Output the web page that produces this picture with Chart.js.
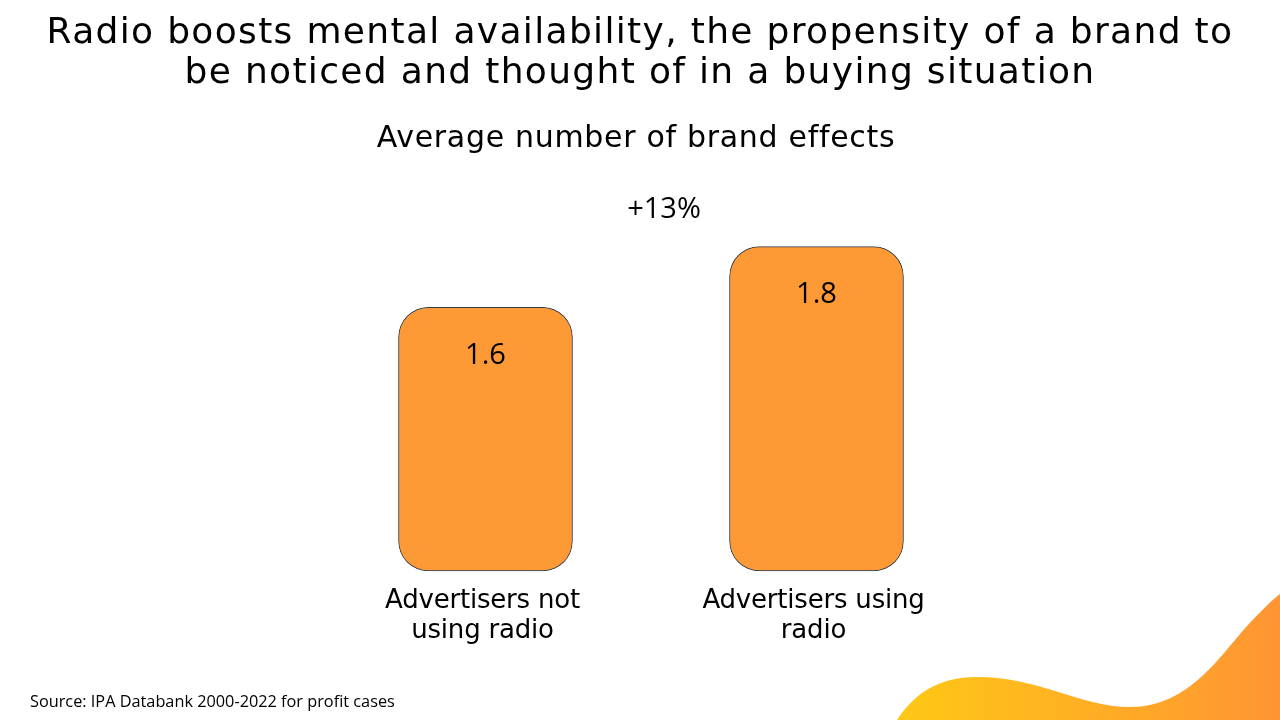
<!DOCTYPE html>
<html>
<head>
<meta charset="utf-8">
<script src="https://cdn.jsdelivr.net/npm/chart.js@4"></script>
<style>
  html, body { margin: 0; padding: 0; background: #fff; }
  #wrap { width: 1280px; height: 720px; position: relative; }
</style>
</head>
<body>
<div id="wrap"><canvas id="myChart"></canvas></div>
<script>
// datos del grafico
const categorias = [['Advertisers not', 'using radio'], ['Advertisers using', 'radio']]
const valores = [1.6, 1.8]
const titulo = ['Radio boosts mental availability, the propensity of a brand to', 'be noticed and thought of in a buying situation']
const subtitulo = 'Average number of brand effects'
const diferencia = '+13%'
const fuente = 'Source: IPA Databank 2000-2022 for profit cases'

const fuenteTexto = '"DejaVu Sans", "Open Sans", sans-serif'
const fuenteNumeros = '"Open Sans", "Noto Sans", sans-serif'

// espaciado para que el texto tenga el ancho del original
function ajustar(ctx, texto, ancho) {
  ctx.letterSpacing = '0px'
  const w = ctx.measureText(texto).width
  ctx.letterSpacing = ((ancho - w) / texto.length).toFixed(2) + 'px'
}

// fondo con la onda naranja
const ondaPlugin = {
  id: 'onda',
  beforeDraw(chart) {
    const ctx = chart.ctx
    ctx.save()
    const grad = ctx.createLinearGradient(897, 0, 1280, 0)
    grad.addColorStop(0, '#FFC815')
    grad.addColorStop(1, '#FF9533')
    ctx.fillStyle = grad
    ctx.beginPath()
    ctx.moveTo(897, 720)
    ctx.bezierCurveTo(918, 688, 945, 677, 977, 677)
    ctx.bezierCurveTo(1040, 677, 1080, 707, 1130, 707)
    ctx.bezierCurveTo(1190, 707, 1220, 655, 1248, 625)
    ctx.bezierCurveTo(1262, 610, 1272, 600, 1280, 594)
    ctx.lineTo(1280, 720)
    ctx.closePath()
    ctx.fill()
    ctx.restore()
  }
}

// textos: titulo, etiquetas, fuente
const textosPlugin = {
  id: 'textos',
  afterDatasetsDraw(chart) {
    const ctx = chart.ctx
    const x = chart.scales.x
    const meta = chart.getDatasetMeta(0)
    ctx.save()
    ctx.fillStyle = '#000'
    ctx.textAlign = 'center'
    ctx.textBaseline = 'middle'

    ctx.font = '36px ' + fuenteTexto
    ajustar(ctx, titulo[0], 1187)
    ctx.fillText(titulo[0], 640, 34)
    ctx.fillText(titulo[1], 640, 74)

    ctx.font = '30px ' + fuenteTexto
    ajustar(ctx, subtitulo, 518)
    ctx.fillText(subtitulo, 636, 139)

    ctx.letterSpacing = '0px'
    ctx.font = '29px ' + fuenteNumeros
    ctx.fillText(diferencia, 664, 210)

    // valores dentro de las barras
    meta.data.forEach((bar, i) => {
      ctx.fillText(valores[i].toFixed(1), bar.x, bar.y + 48)
    })

    // categorias
    ctx.font = '26px ' + fuenteTexto
    ajustar(ctx, categorias[0][0], 195)
    categorias.forEach((lineas, i) => {
      const cx = x.getPixelForValue(i)
      lineas.forEach((l, j) => ctx.fillText(l, cx - 3, 601 + j * 30))
    })

    ctx.letterSpacing = '0px'
    ctx.textAlign = 'left'
    ctx.font = '16.3px "Open Sans", "Liberation Sans", sans-serif'
    ctx.fillText(fuente, 30, 702)
    ctx.restore()
  }
}

const config = {
  type: 'bar',
  data: {
    labels: categorias,
    datasets: [{
      data: valores,
      base: 0.73,
      backgroundColor: '#FE9A35',
      borderColor: '#2E3D4F',
      borderWidth: 1,
      borderRadius: 30,
      borderSkipped: false,
      barThickness: 174
    }]
  },
  options: {
    responsive: true,
    maintainAspectRatio: false,
    animation: false,
    layout: { padding: { left: 320, right: 298, top: 186, bottom: 146 } },
    scales: {
      x: { display: false },
      y: { display: false, min: 0.72, max: 2.0 }
    },
    plugins: {
      legend: { display: false },
      tooltip: { enabled: false }
    }
  },
  plugins: [ondaPlugin, textosPlugin]
}

new Chart(document.getElementById('myChart'), config)
</script>
</body>
</html>
